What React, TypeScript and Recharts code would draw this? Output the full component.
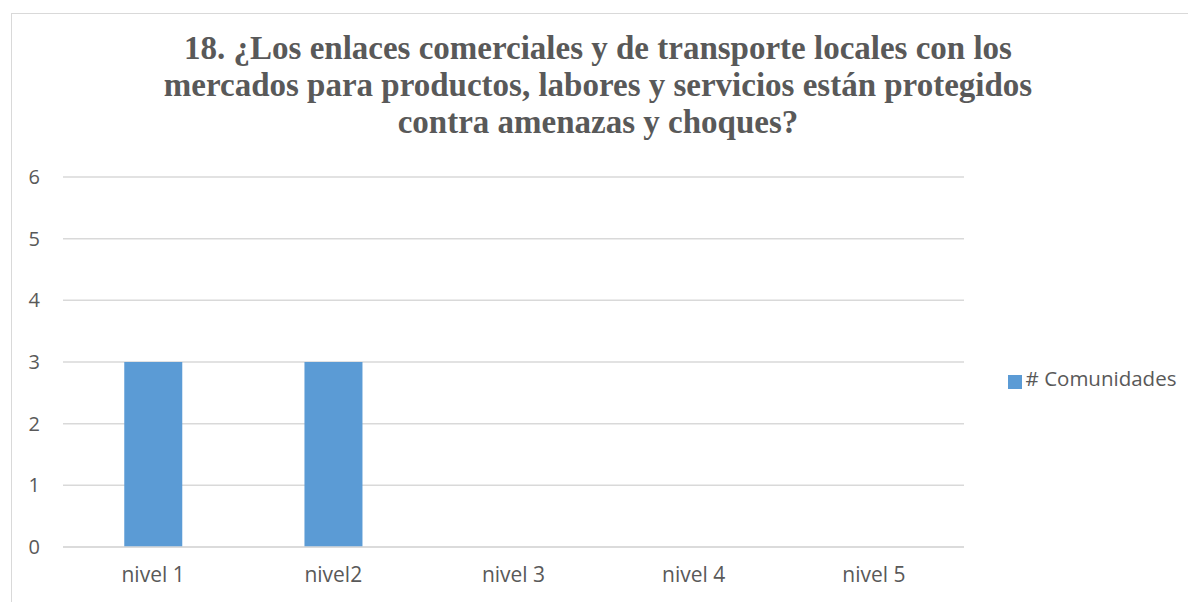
import { BarChart, Bar, XAxis, YAxis, CartesianGrid, Legend } from "recharts";

const niveles = ["nivel 1", "nivel2", "nivel 3", "nivel 4", "nivel 5"];
const comunidades = [3, 3, 0, 0, 0];
const yTicks = [0, 1, 2, 3, 4, 5, 6];

const titleLines = [
  "18. ¿Los enlaces comerciales y de transporte locales con los",
  "mercados para productos, labores y servicios están protegidos",
  "contra amenazas y choques?",
];

const chartData = niveles.map((nivel, i) => ({
  nivel,
  comunidades: comunidades[i],
}));

const grey = "#595959";
const grid = "#D9D9D9";
const font = "'Open Sans', sans-serif";

export default function App() {
  return (
    <div
      style={{
        position: "absolute",
        left: 0,
        top: 0,
        width: 1188,
        height: 602,
        overflow: "hidden",
        background: "#fff",
        fontFamily: font,
      }}
    >
      <div
        style={{
          position: "absolute",
          left: 11,
          top: 13,
          width: 1300,
          height: 700,
          border: `1px solid ${grid}`,
        }}
      />
      <div
        style={{
          position: "absolute",
          left: 98,
          top: 30,
          width: 1000,
          textAlign: "center",
          fontFamily: "'Liberation Serif', serif",
          fontWeight: "bold",
          fontSize: 33,
          lineHeight: "37px",
          color: grey,
        }}
      >
        {titleLines.map((l) => (
          <div key={l}>{l}</div>
        ))}
      </div>
      <div style={{ position: "absolute", left: 0, top: 0 }}>
        <BarChart
          width={1188}
          height={602}
          data={chartData}
          margin={{ top: 177, right: 224, bottom: 25, left: 0 }}
          barCategoryGap="34%"
        >
          <CartesianGrid vertical={false} stroke={grid} strokeWidth={1.5} />
          <XAxis
            dataKey="nivel"
            height={30}
            axisLine={{ stroke: grid, strokeWidth: 1.5 }}
            tickLine={false}
            tickMargin={14}
            tick={{ fill: grey, fontSize: 21, fontFamily: font }}
          />
          <YAxis
            width={63}
            domain={[0, 6]}
            ticks={yTicks}
            axisLine={false}
            tickLine={false}
            tickMargin={17}
            tick={{ fill: grey, fontSize: 20, fontFamily: font }}
          />
          <Legend
            align="center"
            verticalAlign="middle"
            iconType="square"
            iconSize={14}
            wrapperStyle={{
              left: 997,
              top: 364,
              width: 200,
              whiteSpace: "nowrap",
              textAlign: "left",
            }}
            formatter={(v) => (
              <span style={{ color: grey, fontSize: 20.5, fontFamily: font }}>
                {v}
              </span>
            )}
          />
          <Bar
            dataKey="comunidades"
            name="# Comunidades"
            fill="#5B9BD5"
            isAnimationActive={false}
          />
        </BarChart>
      </div>
    </div>
  );
}
